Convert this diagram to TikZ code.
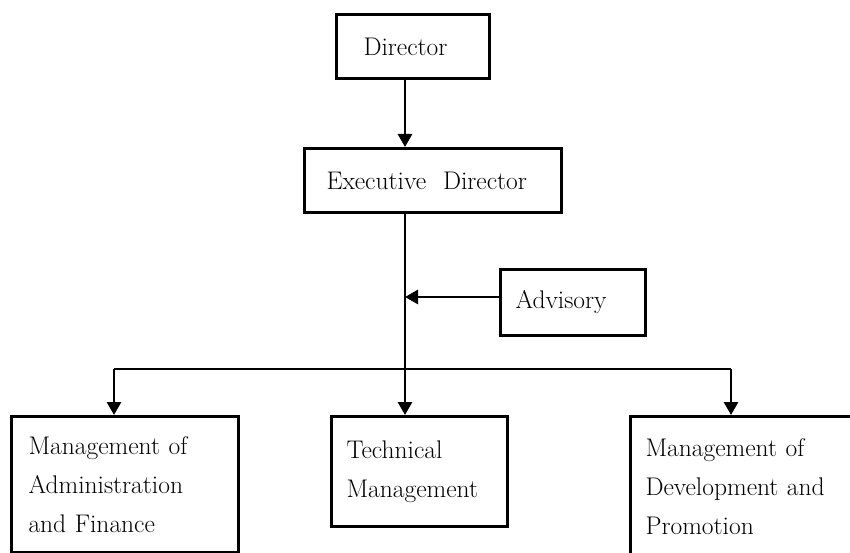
\documentclass[tikz,border=0pt]{standalone}
\usepackage{fontspec}
\usetikzlibrary{arrows.meta}
\tikzset{
  box/.style={draw=black, line width=3pt, anchor=north west, inner ysep=0pt,
    align=left, font=\fontsize{25.5}{39}\selectfont, text=black},
  conn/.style={draw=black, line width=2.8pt},
  arr/.style={conn, -{Triangle[length=13pt,width=14pt]}},
}
\begin{document}
\begin{tikzpicture}[x=1pt,y=-1pt]
  \clip (0,0) rectangle (850,553);
  \fill[white] (0,0) rectangle (850,553);
  % boxes
  \node[box, inner xsep=27pt, text width=99pt, minimum height=64pt] (dir) at (335,13) {Director};
  \node[box, inner xsep=22pt, text width=213pt, minimum height=64pt] (exe) at (303,147) {Executive~~Director};
  \node[box, inner xsep=15pt, text width=115pt, minimum height=66pt] (adv) at (499,268) {Advisory};
  \node[box, inner xsep=17pt, text width=193pt, minimum height=136pt] (lb) at (10,415) {Management of\\Administration\\and Finance};
  \node[box, inner xsep=15pt, text width=146pt, minimum height=110pt] (tech) at (330,415) {Technical\\Management};
  \node[box, inner xsep=15pt, text width=197pt, minimum height=140pt] (rb) at (629,415) {Management of\\Development and\\Promotion};
  % helper coordinates
  \coordinate (t) at (405,0);
  \coordinate (bL) at (114,369);
  \coordinate (bR) at (731,369);
  \coordinate (advj) at (405,297);
  % connectors
  \draw[arr] (dir.south -| t) -- (exe.north -| t);
  \draw[arr] (exe.south -| t) -- (tech.north -| t);
  \draw[arr] (adv.west |- advj) -- (advj);
  \draw[conn] (bL) -- (bR);
  \draw[arr] (bL) -- (bL |- lb.north);
  \draw[arr] (bR) -- (bR |- rb.north);
\end{tikzpicture}
\end{document}
